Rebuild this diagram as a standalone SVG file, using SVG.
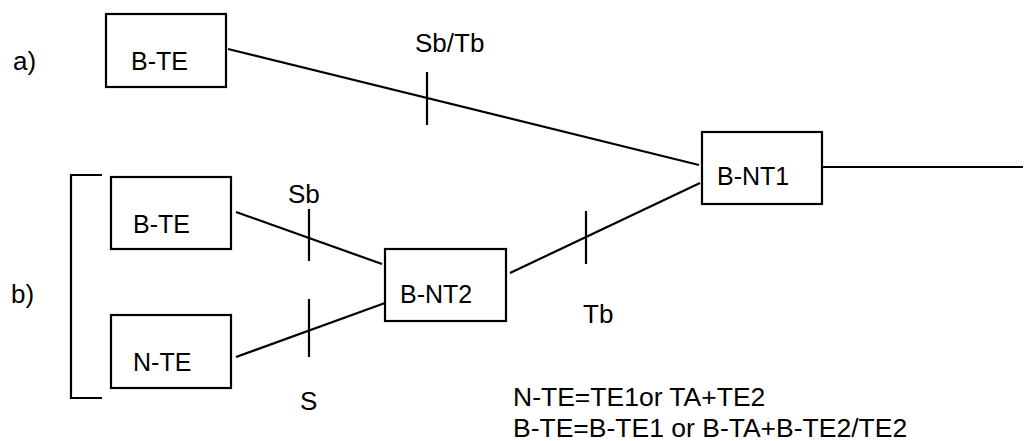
<svg xmlns="http://www.w3.org/2000/svg" width="1026" height="441" viewBox="0 0 1026 441">
<style>
.box{fill:#fff;stroke:#000;stroke-width:2.2}
.ln{stroke:#000;stroke-width:2.2;fill:none}
text{font-family:"Liberation Sans",Arial,sans-serif;font-size:25px;fill:#000}
.lbl{font-size:26px}
.note{font-size:26.5px}
</style>
<rect width="1026" height="441" fill="#fff"/>
<g id="connectors">
<line class="ln" x1="228" y1="49" x2="699" y2="165"/>
<line class="ln" x1="236" y1="212" x2="382" y2="264"/>
<line class="ln" x1="236" y1="357" x2="385" y2="303"/>
<line class="ln" x1="510" y1="273" x2="700" y2="183"/>
<line class="ln" x1="823" y1="167" x2="1023" y2="167"/>
<line class="ln" x1="427" y1="72" x2="427" y2="125"/>
<line class="ln" x1="309" y1="209" x2="309" y2="261"/>
<line class="ln" x1="309" y1="299" x2="309" y2="357"/>
<line class="ln" x1="586" y1="211" x2="586" y2="264"/>
<path class="ln" d="M102,175 H71 V398 H102"/>
</g>
<g id="labels">
<text class="lbl" x="13" y="70">a)</text>
<text class="lbl" x="11" y="303">b)</text>
<text class="lbl" x="415" y="52">Sb/Tb</text>
<text class="lbl" x="288" y="203">Sb</text>
<text class="lbl" x="300" y="410">S</text>
<text class="lbl" x="583" y="323">Tb</text>
<text class="note" x="513" y="406">N-TE=TE1or TA+TE2</text>
<text class="note" x="513" y="437">B-TE=B-TE1 or B-TA+B-TE2/TE2</text>
</g>
<g id="node-bte-a"><rect class="box" x="106" y="14" width="120" height="73"/><text x="131" y="70">B-TE</text></g>
<g id="node-bte-b"><rect class="box" x="111" y="177" width="120" height="72"/><text x="133" y="233">B-TE</text></g>
<g id="node-nte"><rect class="box" x="111" y="315" width="120" height="73"/><text x="133" y="371">N-TE</text></g>
<g id="node-bnt2"><rect class="box" x="385" y="249" width="121" height="72"/><text x="400" y="303">B-NT2</text></g>
<g id="node-bnt1"><rect class="box" x="702" y="132" width="120" height="72"/><text x="717" y="185">B-NT1</text></g>
</svg>
